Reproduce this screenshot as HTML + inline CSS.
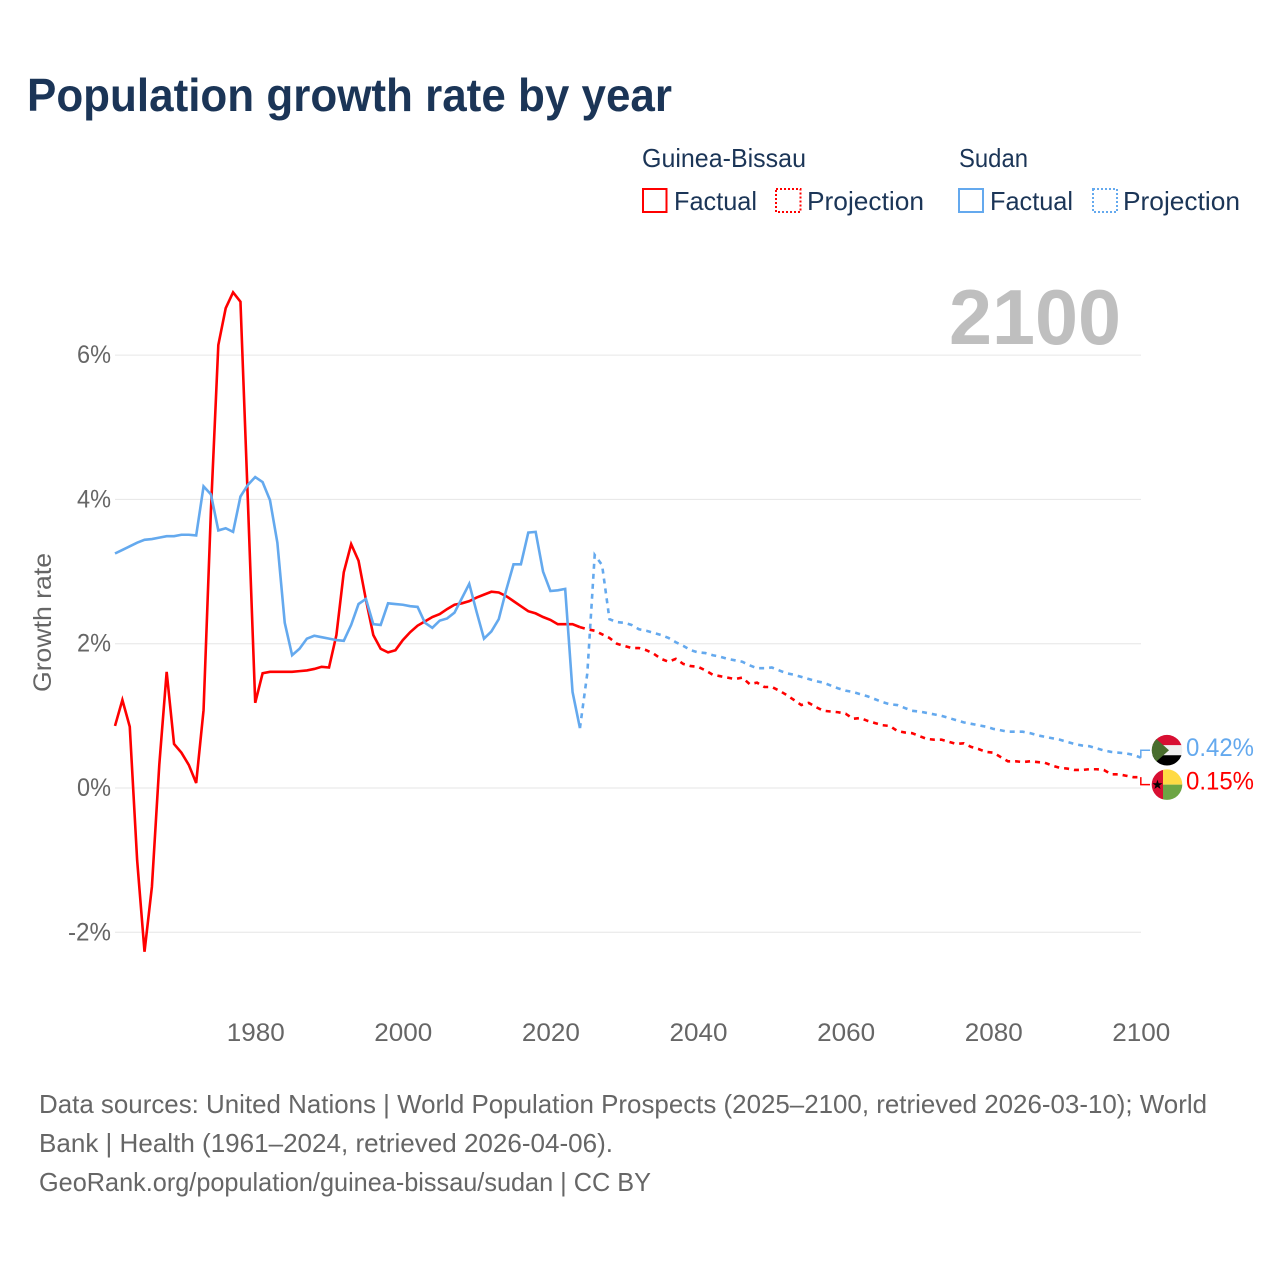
<!DOCTYPE html>
<html lang="en">
<head>
<meta charset="utf-8">
<title>Population growth rate by year</title>
<style>
html,body{margin:0;padding:0;background:#fff;}
svg{display:block;font-family:"Liberation Sans",sans-serif;}
</style>
</head>
<body>
<svg id="chart" width="1280" height="1280" viewBox="0 0 1280 1280" xmlns="http://www.w3.org/2000/svg">
  <defs>
    <clipPath id="clip-sudan"><circle id="clip-sudan-circle" cx="1167" cy="750" r="15.3"/></clipPath>
    <clipPath id="clip-gb"><circle id="clip-gb-circle" cx="1167" cy="784" r="15.3"/></clipPath>
  </defs>
  <rect x="0" y="0" width="1280" height="1280" fill="#ffffff"/>
  <text x="27" y="111" font-size="46" font-weight="700" fill="#1b3557" textLength="645" lengthAdjust="spacingAndGlyphs">Population growth rate by year</text>

  <g font-size="26" fill="#1b3557">
    <text x="642" y="167" textLength="164" lengthAdjust="spacingAndGlyphs">Guinea-Bissau</text>
    <text x="959" y="167" textLength="69" lengthAdjust="spacingAndGlyphs">Sudan</text>
    <rect x="643" y="189" width="23.5" height="23" fill="none" stroke="#ff0000" stroke-width="2"/>
    <text x="674" y="210" textLength="83" lengthAdjust="spacingAndGlyphs">Factual</text>
    <rect x="776" y="189" width="24.5" height="23" fill="none" stroke="#ff0000" stroke-width="2" stroke-dasharray="2 2"/>
    <text x="807" y="210" textLength="117" lengthAdjust="spacingAndGlyphs">Projection</text>
    <rect x="959" y="189" width="24" height="23" fill="none" stroke="#64a9ee" stroke-width="2"/>
    <text x="990" y="210" textLength="83" lengthAdjust="spacingAndGlyphs">Factual</text>
    <rect x="1093" y="189" width="24" height="23" fill="none" stroke="#64a9ee" stroke-width="2" stroke-dasharray="2 2"/>
    <text x="1123" y="210" textLength="117" lengthAdjust="spacingAndGlyphs">Projection</text>
  </g>

  <text x="949" y="344" font-size="78" font-weight="700" fill="#bfbfbf" textLength="172" lengthAdjust="spacingAndGlyphs">2100</text>
  <text transform="translate(51,692) rotate(-90)" font-size="25" fill="#666666" textLength="139" lengthAdjust="spacingAndGlyphs">Growth rate</text>

  <g id="grid"></g>
  <g id="yticks"></g>
  <g id="xticks"></g>
  <g id="series"></g>

  <g id="flag-sudan"></g>
  <g id="flag-gb"></g>
  <g id="end-labels"></g>

  <g font-size="26" fill="#666666">
    <text x="39" y="1113" textLength="1168" lengthAdjust="spacingAndGlyphs">Data sources: United Nations | World Population Prospects (2025–2100, retrieved 2026-03-10); World</text>
    <text x="39" y="1152" textLength="574" lengthAdjust="spacingAndGlyphs">Bank | Health (1961–2024, retrieved 2026-04-06).</text>
    <text x="39" y="1191" textLength="612" lengthAdjust="spacingAndGlyphs">GeoRank.org/population/guinea-bissau/sudan | CC BY</text>
  </g>
</svg>

<script>
const yTickValues = [-2, 0, 2, 4, 6];
const xTickYears = [1980, 2000, 2020, 2040, 2060, 2080, 2100];
const factualStartYear = 1961;
const projectionStartYear = 2024;
const gbFactual = [0.86,1.22,0.85,-1.00,-2.27,-1.37,0.32,1.61,0.61,0.49,0.32,0.07,1.08,3.85,6.14,6.65,6.87,6.74,3.99,1.18,1.59,1.61,1.61,1.61,1.61,1.62,1.63,1.65,1.68,1.67,2.12,2.99,3.38,3.15,2.61,2.12,1.93,1.88,1.91,2.05,2.16,2.25,2.31,2.37,2.41,2.48,2.54,2.56,2.59,2.64,2.68,2.72,2.71,2.66,2.59,2.52,2.45,2.42,2.37,2.33,2.27,2.27,2.27,2.23];
const gbProjection = [2.23,2.20,2.18,2.13,2.08,2.00,1.97,1.94,1.94,1.91,1.86,1.79,1.75,1.79,1.72,1.69,1.68,1.63,1.57,1.55,1.53,1.51,1.53,1.44,1.46,1.40,1.40,1.35,1.29,1.22,1.15,1.18,1.12,1.07,1.06,1.05,1.03,0.96,0.97,0.93,0.90,0.87,0.86,0.79,0.77,0.76,0.72,0.68,0.67,0.67,0.64,0.61,0.62,0.57,0.54,0.50,0.49,0.43,0.37,0.37,0.36,0.37,0.36,0.35,0.31,0.28,0.27,0.25,0.25,0.26,0.26,0.25,0.19,0.19,0.17,0.15,0.15];
const sudanFactual = [3.25,3.30,3.35,3.40,3.44,3.45,3.47,3.49,3.49,3.51,3.51,3.50,4.18,4.07,3.57,3.60,3.55,4.04,4.20,4.31,4.24,3.99,3.40,2.29,1.84,1.93,2.07,2.11,2.09,2.07,2.05,2.04,2.26,2.55,2.62,2.27,2.26,2.56,2.55,2.54,2.52,2.51,2.29,2.22,2.32,2.35,2.43,2.63,2.83,2.44,2.07,2.17,2.34,2.74,3.10,3.10,3.54,3.55,3.00,2.73,2.74,2.76,1.33,0.83];
const sudanProjection = [0.83,1.59,3.23,3.09,2.34,2.30,2.29,2.26,2.20,2.18,2.15,2.12,2.08,2.02,1.97,1.91,1.88,1.87,1.84,1.82,1.79,1.77,1.75,1.70,1.66,1.66,1.67,1.63,1.59,1.57,1.54,1.51,1.48,1.46,1.42,1.38,1.35,1.33,1.30,1.27,1.23,1.19,1.16,1.15,1.11,1.07,1.06,1.04,1.02,1.00,0.97,0.94,0.91,0.89,0.87,0.85,0.82,0.80,0.78,0.78,0.78,0.76,0.73,0.71,0.69,0.67,0.64,0.61,0.59,0.58,0.55,0.52,0.50,0.49,0.48,0.46,0.42];

const NS = 'http://www.w3.org/2000/svg';
const RED = '#ff0000';
const BLUE = '#64a9ee';
const xScale = function (year) { return 115 + (year - 1961) * 7.38; };
const yScale = function (value) { return 788 - value * 72.15; };

function make(tag, parentId, attrs) {
  const el = document.createElementNS(NS, tag);
  Object.keys(attrs).forEach(function (k) { el.setAttribute(k, attrs[k]); });
  document.getElementById(parentId).appendChild(el);
  return el;
}

function linePath(values, startYear) {
  return values.map(function (v, i) {
    return (i ? 'L' : 'M') + xScale(startYear + i).toFixed(2) + ' ' + yScale(v).toFixed(2);
  }).join(' ');
}

yTickValues.forEach(function (v) {
  const g = make('line', 'grid', {x1: 115, x2: 1141, y1: yScale(v), y2: yScale(v), stroke: '#e6e6e6', 'stroke-width': 1});
  
  
  const label = v + '%';
  const t = make('text', 'yticks', {x: 111, y: yScale(v) + 8, 'text-anchor': 'end', 'font-size': 25, fill: '#666666', textLength: v < 0 ? 43 : 34, lengthAdjust: 'spacingAndGlyphs'});
  
  
  t.textContent = label;
});

xTickYears.forEach(function (year) {
  const t = make('text', 'xticks', {x: xScale(year) - 28.5, y: 1041, 'font-size': 25, fill: '#666666', textLength: 58, lengthAdjust: 'spacingAndGlyphs'});
  
  
  t.textContent = year;
});

const gbFactualLine = make('path', 'series', {d: linePath(gbFactual, factualStartYear), fill: 'none', stroke: RED, 'stroke-width': 2.6, 'stroke-linejoin': 'miter'});



const gbProjectionLine = make('path', 'series', {d: linePath(gbProjection, projectionStartYear), fill: 'none', stroke: RED, 'stroke-width': 2.6, 'stroke-dasharray': '5 5'});



const sudanFactualLine = make('path', 'series', {d: linePath(sudanFactual, factualStartYear), fill: 'none', stroke: BLUE, 'stroke-width': 2.6, 'stroke-linejoin': 'miter'});



const sudanProjectionLine = make('path', 'series', {d: linePath(sudanProjection, projectionStartYear), fill: 'none', stroke: BLUE, 'stroke-width': 2.6, 'stroke-dasharray': '5 5'});



const gbLast = gbProjection[gbProjection.length - 1];
const sudanLast = sudanProjection[sudanProjection.length - 1];
const endX = xScale(2100);
const midY = (yScale(gbLast) + yScale(sudanLast)) / 2 ;
const upperSudan = yScale(sudanLast) <= yScale(gbLast);
const sudanCy = midY + (upperSudan ? -17.2 : 17.2);
const gbCy = midY + (upperSudan ? 17.2 : -17.2);

const sudanConnector = make('path', 'series', {d: 'M' + endX + ' ' + yScale(sudanLast) + ' V' + sudanCy + ' H1150', fill: 'none', stroke: BLUE, 'stroke-width': 1.5});



const gbConnector = make('path', 'series', {d: 'M' + endX + ' ' + yScale(gbLast) + ' V' + gbCy + ' H1150', fill: 'none', stroke: RED, 'stroke-width': 1.5});



document.getElementById('clip-sudan-circle').setAttribute('cy', sudanCy);
document.getElementById('clip-gb-circle').setAttribute('cy', gbCy);
document.getElementById('flag-sudan').setAttribute('clip-path', 'url(#clip-sudan)');
document.getElementById('flag-gb').setAttribute('clip-path', 'url(#clip-gb)');

make('rect', 'flag-sudan', {x: 1151, y: sudanCy - 16, width: 32, height: 11, fill: '#d80f32'});
make('rect', 'flag-sudan', {x: 1151, y: sudanCy - 5, width: 32, height: 10, fill: '#f0f0f0'});
make('rect', 'flag-sudan', {x: 1151, y: sudanCy + 5, width: 32, height: 11, fill: '#000000'});
make('polygon', 'flag-sudan', {points: '1151,' + (sudanCy - 16) + ' 1151,' + (sudanCy + 16) + ' 1169,' + sudanCy, fill: '#496e2d'});

make('rect', 'flag-gb', {x: 1151, y: gbCy - 16, width: 12, height: 32, fill: '#d80f32'});
make('rect', 'flag-gb', {x: 1163, y: gbCy - 16, width: 20, height: 16, fill: '#ffda44'});
make('rect', 'flag-gb', {x: 1163, y: gbCy, width: 20, height: 16, fill: '#6da544'});
const star = make('text', 'flag-gb', {x: 1157.5, y: gbCy + 4.5, 'text-anchor': 'middle', 'font-size': 13, fill: '#000000', 'font-family': '"DejaVu Sans",sans-serif'});


star.textContent = '★';

const sudanValue = make('text', 'end-labels', {x: 1186, y: sudanCy + 6, 'font-size': 25, fill: BLUE, textLength: 68, lengthAdjust: 'spacingAndGlyphs'});


sudanValue.textContent = sudanLast.toFixed(2) + '%';

const gbValue = make('text', 'end-labels', {x: 1186, y: gbCy + 5, 'font-size': 25, fill: RED, textLength: 68, lengthAdjust: 'spacingAndGlyphs'});


gbValue.textContent = gbLast.toFixed(2) + '%';
</script>
</body>
</html>
